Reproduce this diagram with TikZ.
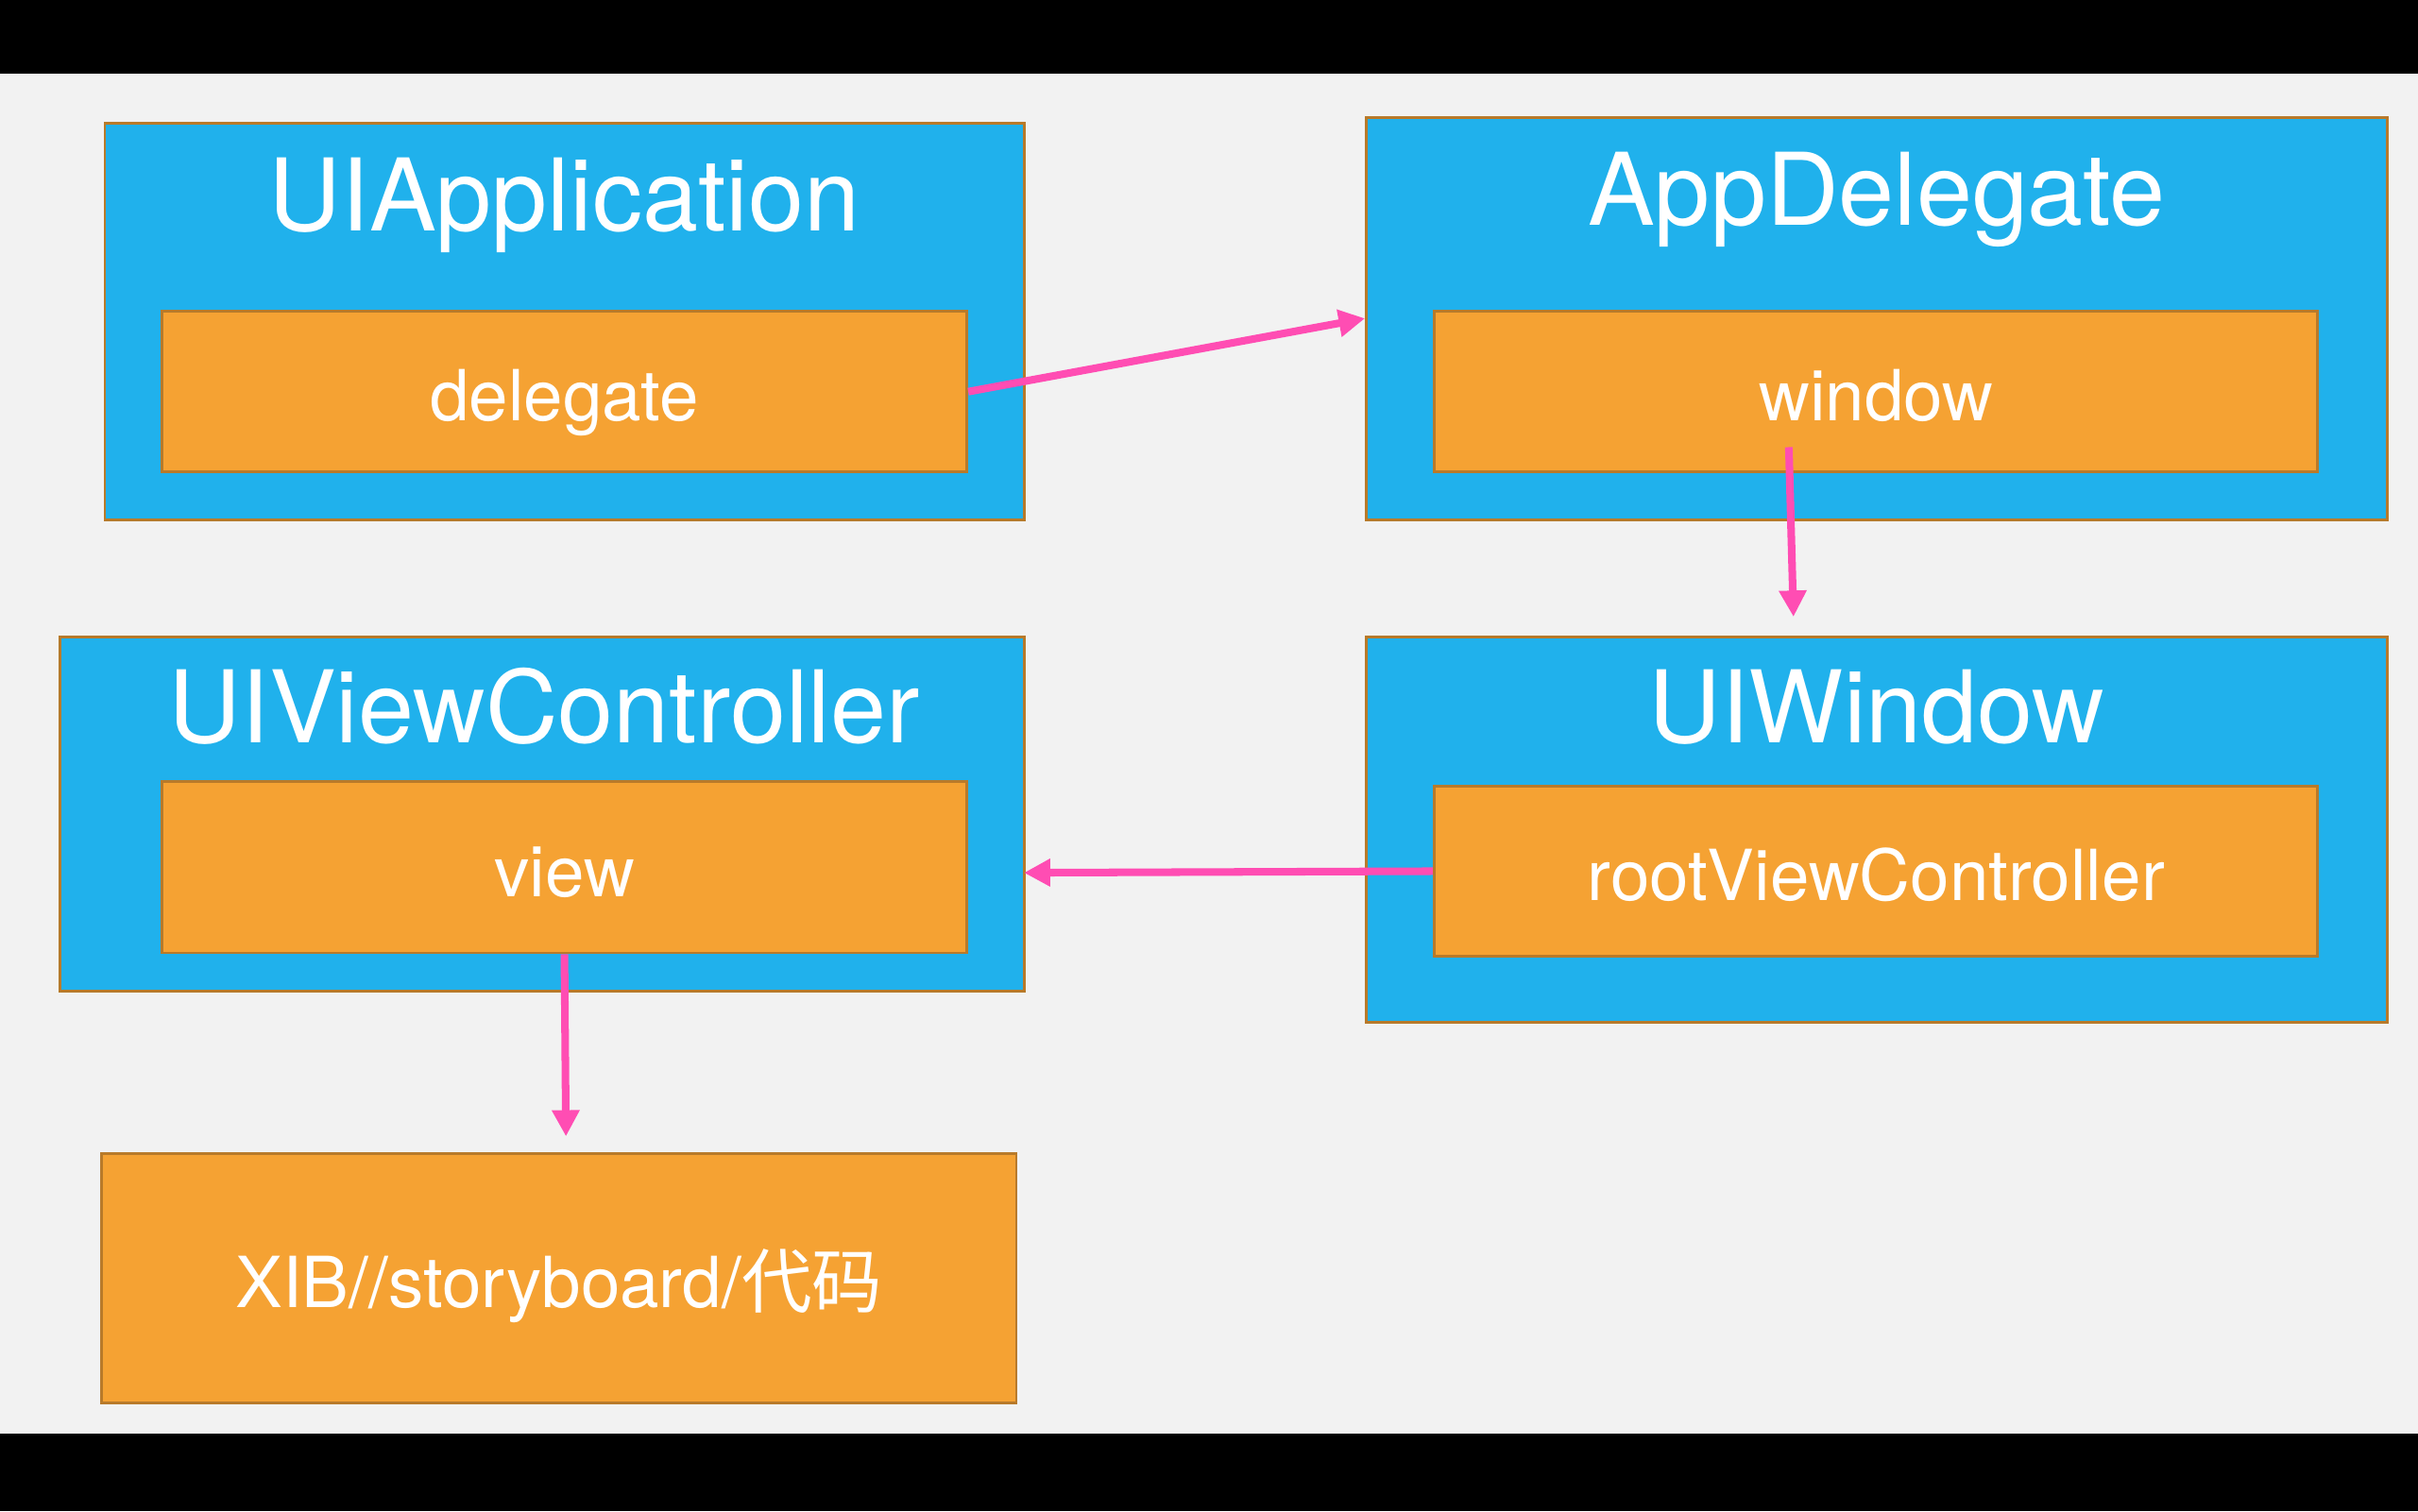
\documentclass[tikz,border=0pt]{standalone}
\usepackage{fontspec}
\setmainfont{TeX Gyre Heros}
\newfontfamily\cjk{Noto Sans CJK SC}
\usetikzlibrary{arrows.meta}
\definecolor{boxblue}{HTML}{20B1EC}
\definecolor{boxorange}{HTML}{F5A233}
\definecolor{boxedge}{HTML}{B87A2A}
\definecolor{linkpink}{HTML}{FF4DB3}
\definecolor{paper}{HTML}{F2F2F2}
\begin{document}
\begin{tikzpicture}[
	outerbox/.style={rectangle, draw=boxedge, line width=0.5pt, fill=boxblue, inner sep=0pt},
	innerbox/.style={rectangle, draw=boxedge, line width=0.5pt, fill=boxorange, inner sep=0pt, text=white, text height=11pt, text depth=0.2pt, font=\fontsize{13}{15}\selectfont},
	title/.style={anchor=base, text=white, inner sep=0pt, font=\fontsize{18.5}{22}\selectfont},
	link/.style={draw=linkpink, line width=1.4pt, -{Triangle[length=0.17cm, width=0.17cm]}}
	]
	\fill[paper] (0,0) rectangle (15.68,9.8);
	\fill[black] (0,9.32) rectangle (15.68,9.8);
	\fill[black] (0,0) rectangle (15.68,0.5);
	\node (app) at (3.66,7.715) [outerbox, minimum width=5.96cm, minimum height=2.57cm] {};
	\node (apptitle) at (3.66,8.30) [title] {UIApplication};
	\node (delegate) at (3.66,7.26) [innerbox, minimum width=5.22cm, minimum height=1.04cm] {delegate};
	\node (appdel) at (12.17,7.735) [outerbox, minimum width=6.62cm, minimum height=2.61cm] {};
	\node (appdeltitle) at (12.17,8.34) [title] {AppDelegate};
	\node (window) at (12.165,7.26) [innerbox, minimum width=5.73cm, minimum height=1.04cm] {window};
	\node (vc) at (3.515,4.52) [outerbox, minimum width=6.25cm, minimum height=2.30cm] {};
	\node (vctitle) at (3.53,4.98) [title] {UIViewController};
	\node (view) at (3.66,4.175) [innerbox, minimum width=5.22cm, minimum height=1.11cm] {view};
	\node (uiwin) at (12.17,4.42) [outerbox, minimum width=6.62cm, minimum height=2.50cm] {};
	\node (uiwintitle) at (12.17,4.98) [title] {UIWindow};
	\node (rootvc) at (12.165,4.15) [innerbox, minimum width=5.73cm, minimum height=1.10cm] {rootViewController};
	\node (xib) at (3.625,1.51) [innerbox, minimum width=5.93cm, minimum height=1.62cm] {XIB//storyboard/{\cjk 代码}};
	\coordinate (winout) at (11.60,6.90);
	\coordinate (winin) at (11.63,5.80);
	\coordinate (vcin) at (6.64,4.14);
	\coordinate (xibin) at (3.67,2.43);
	\draw[link] (delegate.east) -- (appdel.west);
	\draw[link] (winout) -- (winin);
	\draw[link] (rootvc.west) -- (vcin);
	\draw[link] (view.south) -- (xibin);
\end{tikzpicture}
\end{document}
